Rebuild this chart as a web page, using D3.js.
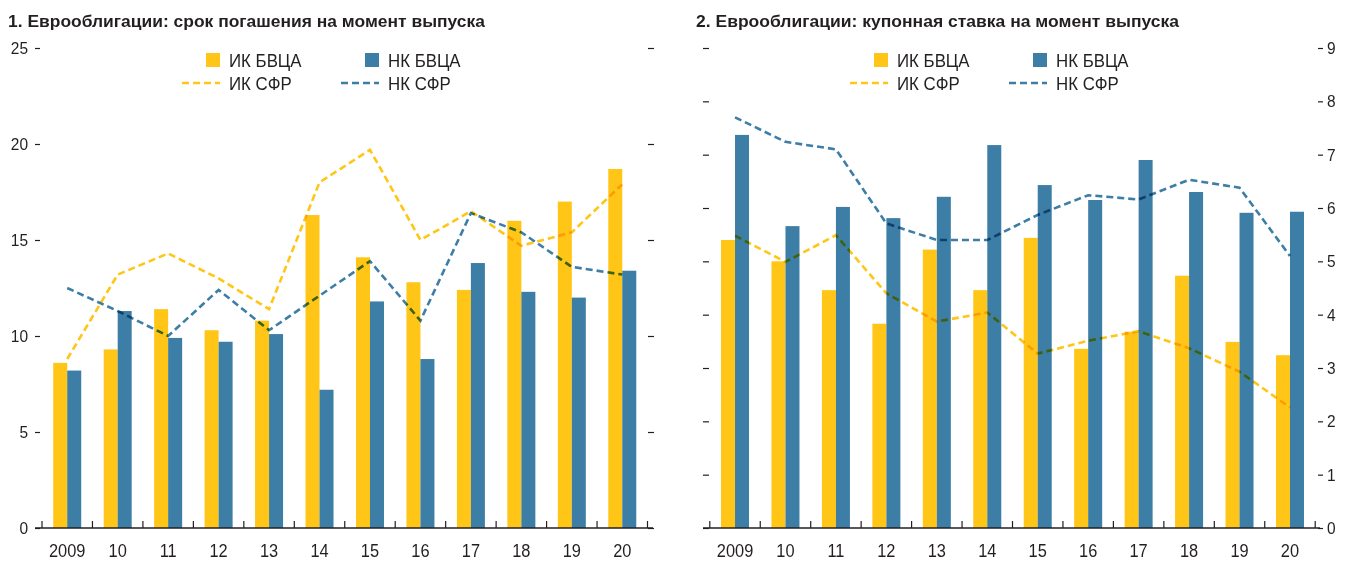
<!DOCTYPE html>
<html>
<head>
<meta charset="utf-8">
<script src="https://cdn.jsdelivr.net/npm/d3@7"></script>
<style>
  body { margin:0; background:#fff; }
  svg { display:block; font-family:"Liberation Sans",Arial,sans-serif; }
  .lbl { fill:#231f20; }
</style>
</head>
<body>
<div id="chart-area"></div>
<script>
// categories
const years = ["2009","10","11","12","13","14","15","16","17","18","19","20"];

// chart 1: maturity at issue, years
const maturityIkBvca = [8.6, 9.3, 11.4, 10.3, 10.8, 16.3, 14.1, 12.8, 12.4, 16.0, 17.0, 18.7];
const maturityNkBvca = [8.2, 11.3, 9.9, 9.7, 10.1, 7.2, 11.8, 8.8, 13.8, 12.3, 12.0, 13.4];
const maturityIkSfr  = [8.8, 13.2, 14.3, 13.0, 11.4, 18.0, 19.7, 15.0, 16.5, 14.7, 15.4, 17.9];
const maturityNkSfr  = [12.5, 11.3, 10.0, 12.4, 10.3, 12.1, 13.9, 10.8, 16.4, 15.4, 13.6, 13.2];
const maturityTicks  = [0, 5, 10, 15, 20, 25];

// chart 2: coupon rate at issue, %
const couponIkBvca = [5.40, 5.00, 4.46, 3.83, 5.22, 4.46, 5.44, 3.36, 3.68, 4.73, 3.49, 3.24];
const couponNkBvca = [7.37, 5.66, 6.02, 5.81, 6.21, 7.18, 6.43, 6.15, 6.90, 6.30, 5.91, 5.93];
const couponIkSfr  = [5.48, 4.99, 5.49, 4.40, 3.87, 4.04, 3.27, 3.51, 3.69, 3.37, 2.93, 2.26];
const couponNkSfr  = [7.70, 7.24, 7.10, 5.71, 5.40, 5.40, 5.87, 6.24, 6.16, 6.53, 6.38, 5.10];
const couponTicks  = [0, 1, 2, 3, 4, 5, 6, 7, 8, 9];

const titles = ["1. Еврооблигации: срок погашения на момент выпуска",
                "2. Еврооблигации: купонная ставка на момент выпуска"];
const legendNames = ["ИК БВЦА", "НК БВЦА", "ИК СФР", "НК СФР"];

const yellow = "#ffc617", blue = "#3d7ea6", ink = "#231f20";

const svg = d3.select("#chart-area")
    .append("svg")
    .attr("width", 1348)
    .attr("height", 562);

function panel(opt) {
    const g = svg.append("g");

    const x = d3.scaleBand()
        .domain(years)
        .range(opt.xRange)
        .paddingInner(0)
        .paddingOuter(0);
    const bw = x.bandwidth();
    const x1 = d3.scaleBand()
        .domain(["ik", "nk"])
        .range([bw / 2 - 14, bw / 2 + 14]);

    const y = d3.scaleLinear()
        .domain([0, opt.yMax])
        .range([528, 48]);

    // title
    g.append("text")
        .attr("class", "lbl")
        .attr("x", opt.titleX)
        .attr("y", 26.5)
        .attr("font-size", "16.5px")
        .attr("font-weight", "bold")
        .attr("textLength", opt.titleLen)
        .attr("lengthAdjust", "spacingAndGlyphs")
        .text(opt.title);

    // side tick dashes
    const leftAxis = d3.axisLeft(y).tickValues(opt.ticks).tickSize(opt.leftTickSize).tickPadding(7);
    if (!opt.leftLabels) leftAxis.tickFormat("");
    const la = g.append("g")
        .attr("transform", "translate(" + opt.leftX + ",0)")
        .call(leftAxis);
    la.select(".domain").remove();

    const rightAxis = d3.axisRight(y).tickValues(opt.ticks).tickSize(opt.rightTickSize).tickPadding(4);
    if (!opt.rightLabels) rightAxis.tickFormat("");
    const ra = g.append("g")
        .attr("transform", "translate(" + opt.rightX + ",0)")
        .call(rightAxis);
    ra.select(".domain").remove();

    [la, ra].forEach(function(a) {
        a.selectAll("line").attr("stroke", ink).attr("stroke-width", 1.2);
        a.selectAll("text")
            .attr("class", "cond")
            .attr("fill", ink)
            .attr("font-size", "17px")
            .attr("font-family", "inherit");
    });

    // bars
    const rows = years.map(function(yr, i) {
        return { year: yr, ik: opt.ikBars[i], nk: opt.nkBars[i] };
    });
    const grp = g.append("g").selectAll("g")
        .data(rows)
        .enter()
        .append("g")
        .attr("transform", function(d){ return "translate(" + x(d.year) + ",0)"; });
    grp.selectAll("rect")
        .data(function(d){ return [{k:"ik", v:d.ik}, {k:"nk", v:d.nk}]; })
        .enter()
        .append("rect")
            .attr("x", function(d){ return x1(d.k); })
            .attr("width", x1.bandwidth())
            .attr("y", function(d){ return y(d.v); })
            .attr("height", function(d){ return y(0) - y(d.v); })
            .attr("fill", function(d){ return d.k === "ik" ? yellow : blue; });

    // x axis: baseline, boundary ticks pointing up, year labels
    const xa = g.append("g")
        .attr("transform", "translate(0,528)");
    const bounds = years.map(function(d){ return x(d); }).concat([x(years[years.length - 1]) + bw]);
    xa.selectAll("line.bound")
        .data(bounds)
        .enter()
        .append("line")
        .attr("class", "bound")
        .attr("x1", function(d){ return d; })
        .attr("x2", function(d){ return d; })
        .attr("y1", 0).attr("y2", -7)
        .attr("stroke", ink).attr("stroke-width", 1.2);
    xa.append("line")
        .attr("x1", opt.lineStart).attr("x2", opt.lineEnd)
        .attr("y1", 0).attr("y2", 0)
        .attr("stroke", ink).attr("stroke-width", 1.5);
    xa.selectAll("text.yr")
        .data(years)
        .enter()
        .append("text")
        .attr("class", "lbl yr cond")
        .attr("x", function(d){ return x(d) + bw / 2; })
        .attr("y", 29)
        .attr("text-anchor", "middle")
        .attr("font-size", "18px")
        .text(function(d){ return d; });

    // dashed lines
    const line = d3.line()
        .x(function(d, i){ return x(years[i]) + bw / 2; })
        .y(function(d){ return y(d); });
    [[opt.ikLine, yellow], [opt.nkLine, blue]].forEach(function(s) {
        g.append("path")
            .datum(s[0])
            .attr("d", line)
            .attr("fill", "none")
            .attr("stroke", s[1])
            .attr("stroke-width", 2.6)
            .attr("stroke-dasharray", "7,4")
            .style("mix-blend-mode", "multiply");
    });

    // legend
    const lg = g.append("g");
    const cols = [opt.legX, opt.legX + 159];
    [0, 1].forEach(function(c) {
        lg.append("rect")
            .attr("x", cols[c] - 23).attr("y", 53)
            .attr("width", 14).attr("height", 14)
            .attr("fill", c === 0 ? yellow : blue);
        lg.append("text")
            .attr("class", "lbl cond")
            .attr("x", cols[c]).attr("y", 66.7)
            .attr("font-size", "18.5px")
            .text(legendNames[c]);
        lg.append("line")
            .attr("x1", cols[c] - 47).attr("x2", cols[c] - 9)
            .attr("y1", 83).attr("y2", 83)
            .attr("stroke", c === 0 ? yellow : blue)
            .attr("stroke-width", 2.6)
            .attr("stroke-dasharray", "7,4");
        lg.append("text")
            .attr("class", "lbl cond")
            .attr("x", cols[c]).attr("y", 90)
            .attr("font-size", "18.5px")
            .text(legendNames[c + 2]);
    });
}

panel({
    title: titles[0], titleX: 8, titleLen: 477,
    xRange: [42, 647.5], yMax: 25, ticks: maturityTicks,
    leftX: 40, leftTickSize: 5, leftLabels: true,
    rightX: 648, rightTickSize: 6, rightLabels: false,
    lineStart: 35, lineEnd: 653,
    ikBars: maturityIkBvca, nkBars: maturityNkBvca,
    ikLine: maturityIkSfr, nkLine: maturityNkSfr,
    legX: 229
});

panel({
    title: titles[1], titleX: 696, titleLen: 483,
    xRange: [709.8, 1315.2], yMax: 9, ticks: couponTicks,
    leftX: 709, leftTickSize: 6, leftLabels: false,
    rightX: 1318, rightTickSize: 5, rightLabels: true,
    lineStart: 703, lineEnd: 1320,
    ikBars: couponIkBvca, nkBars: couponNkBvca,
    ikLine: couponIkSfr, nkLine: couponNkSfr,
    legX: 897
});

// the original uses a narrow face: squeeze the labels a little
svg.selectAll("text.cond").each(function() {
    const len = this.getComputedTextLength();
    if (len > 0) {
        d3.select(this)
            .attr("textLength", len * 0.91)
            .attr("lengthAdjust", "spacingAndGlyphs");
    }
});
</script>
</body>
</html>
